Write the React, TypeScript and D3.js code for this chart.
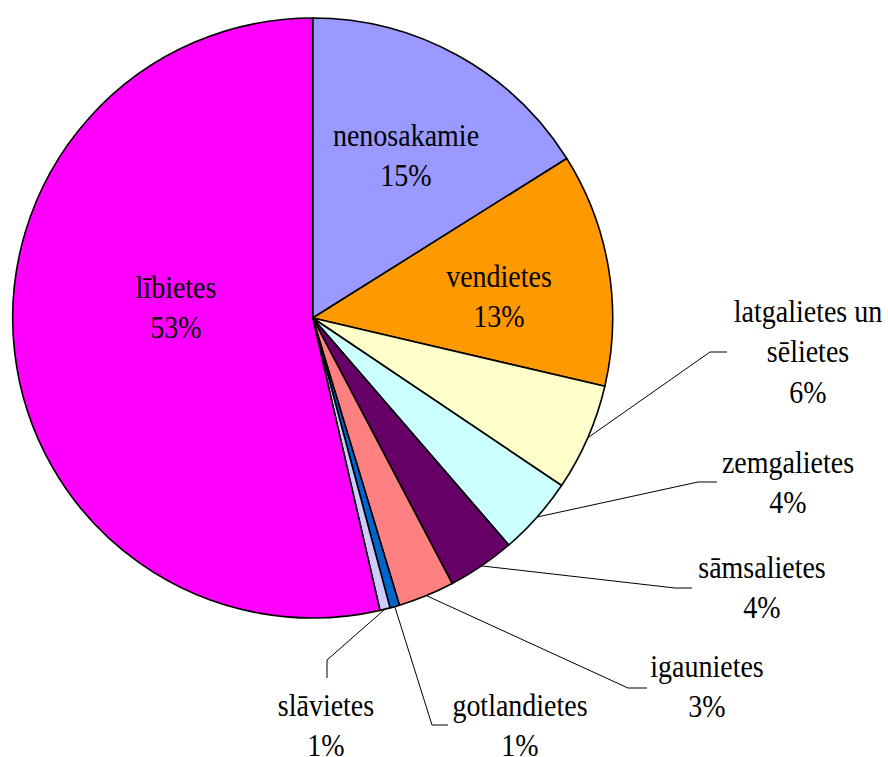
import React from "react";
import * as d3 from "d3";

// ---- data ----
const categories = [
  "nenosakamie",
  "vendietes",
  "latgalietes un sēlietes",
  "zemgalietes",
  "sāmsalietes",
  "igaunietes",
  "gotlandietes",
  "slāvietes",
  "lībietes",
];
const values = [16.08, 12.57, 5.78, 4.23, 3.64, 3.03, 0.52, 0.55, 53.6];
const percentLabels = ["15%", "13%", "6%", "4%", "4%", "3%", "1%", "1%", "53%"];
const labelLines = [
  ["nenosakamie"],
  ["vendietes"],
  ["latgalietes un", "sēlietes"],
  ["zemgalietes"],
  ["sāmsalietes"],
  ["igaunietes"],
  ["gotlandietes"],
  ["slāvietes"],
  ["lībietes"],
];

// ---- styles / layout ----
const colors = [
  "#9999FF",
  "#FF9900",
  "#FFFFCC",
  "#CCFFFF",
  "#660066",
  "#FF8080",
  "#0066CC",
  "#CCCCFF",
  "#FF00FF",
];
const W = 888;
const H = 757;
const cx = 312.7;
const cy = 318;
const R = 300;
const FONT = "Liberation Serif";
const FS = 28;
const STRETCH_Y = 1.1;
const LINE = 40.3;

// label layout: text center x, first baseline y, optional leader elbow & end
type LabelLayout = { x: number; y: number; elbow?: [number, number]; end?: [number, number] };
const labelLayout: LabelLayout[] = [
  { x: 406, y: 145.7 },
  { x: 499, y: 286.7 },
  { x: 808, y: 322, elbow: [710, 352], end: [727, 352] },
  { x: 788, y: 473, elbow: [698, 482], end: [717, 482] },
  { x: 762, y: 578, elbow: [675, 588], end: [692, 588] },
  { x: 707, y: 677, elbow: [628, 688], end: [647, 688] },
  { x: 520, y: 716, elbow: [432, 725], end: [448, 725] },
  { x: 326, y: 716, elbow: [327, 660], end: [327, 678] },
  { x: 176, y: 298 },
];

export default function App() {
  const pie = d3
    .pie<number>()
    .sort(null)
    .value((d) => d)
    .startAngle(0)
    .endAngle(2 * Math.PI);
  const arcs = pie(values);
  const arc = d3.arc<d3.PieArcDatum<number>>().innerRadius(0).outerRadius(R);

  const texts: { key: string; x: number; y: number; s: string }[] = [];
  arcs.forEach((a, i) => {
    const L = labelLayout[i];
    const lines = [...labelLines[i], percentLabels[i]];
    lines.forEach((s, k) => texts.push({ key: `t${i}-${k}`, x: L.x, y: L.y + k * LINE, s }));
  });

  return (
    <svg
      width={W}
      height={H}
      style={{ position: "absolute", left: 0, top: 0, background: "#fff", fontFamily: `"${FONT}"` }}
    >
      <g transform={`translate(${cx},${cy})`}>
        {arcs.map((a, i) => (
          <path
            key={categories[i]}
            d={arc(a) || ""}
            fill={colors[i]}
            stroke="#000"
            strokeWidth={1.6}
            strokeLinejoin="round"
          />
        ))}
      </g>
      {arcs.map((a, i) => {
        const L = labelLayout[i];
        if (!L.elbow || !L.end) return null;
        const mid = (a.startAngle + a.endAngle) / 2;
        const sx = cx + R * Math.sin(mid);
        const sy = cy - R * Math.cos(mid);
        const line = d3.line()([[sx, sy], L.elbow, L.end]);
        return (
          <path key={"l" + i} d={line || ""} fill="none" stroke="#000" strokeWidth={1} />
        );
      })}
      {texts.map((t) => (
        <text
          key={t.key}
          transform={`translate(${t.x},${t.y}) scale(1,${STRETCH_Y})`}
          textAnchor="middle"
          fontFamily={FONT}
          style={{ fontFamily: `"${FONT}"`, fontSize: FS }}
          fill="#000"
        >
          {t.s}
        </text>
      ))}
    </svg>
  );
}
